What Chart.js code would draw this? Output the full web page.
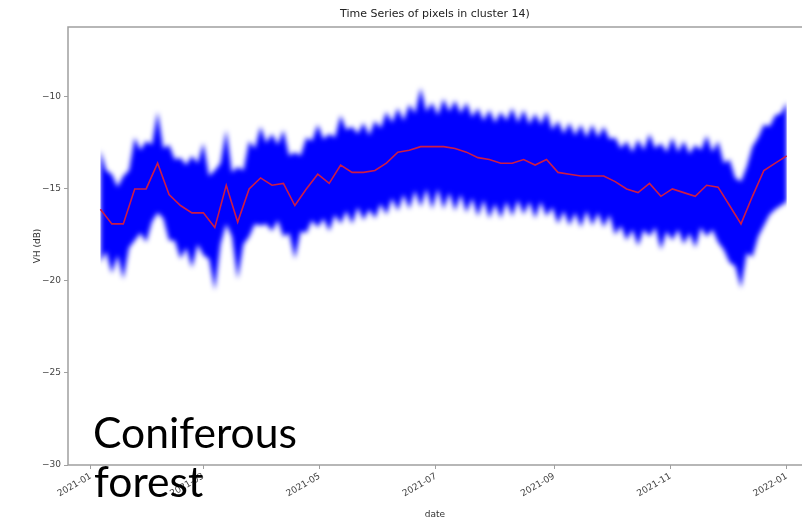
<!DOCTYPE html>
<html><head><meta charset="utf-8">
<script src="https://cdn.jsdelivr.net/npm/chart.js@4.4.1/dist/chart.umd.min.js"></script>
<style>html,body{margin:0;padding:0;background:#fff}canvas{display:block}</style>
</head><body>
<canvas id="c" width="802" height="524"></canvas>
<script>
// ---- data ----
const dates = [
 '2021-01-06','2021-01-12','2021-01-18','2021-01-24','2021-01-30',
 '2021-02-05','2021-02-11','2021-02-17','2021-02-23',
 '2021-03-01','2021-03-07','2021-03-13','2021-03-19','2021-03-25','2021-03-31',
 '2021-04-06','2021-04-12','2021-04-18','2021-04-24','2021-04-30',
 '2021-05-06','2021-05-12','2021-05-18','2021-05-24','2021-05-30',
 '2021-06-05','2021-06-11','2021-06-17','2021-06-23','2021-06-29',
 '2021-07-05','2021-07-11','2021-07-17','2021-07-23','2021-07-29',
 '2021-08-04','2021-08-10','2021-08-16','2021-08-22','2021-08-28',
 '2021-09-03','2021-09-09','2021-09-15','2021-09-21','2021-09-27',
 '2021-10-03','2021-10-09','2021-10-15','2021-10-21','2021-10-27',
 '2021-11-02','2021-11-08','2021-11-14','2021-11-20','2021-11-26',
 '2021-12-02','2021-12-08','2021-12-14','2021-12-20','2021-12-26',
 '2022-01-01'];
const meanVH = [
 -16.1,-16.9,-16.9,-15.0,-15.0,-13.6,-15.3,-15.9,-16.3,-16.3,
 -17.1,-14.8,-16.8,-15.0,-14.4,-14.8,-14.7,-15.9,-15.0,-14.2,
 -14.7,-13.7,-14.1,-14.1,-14.0,-13.6,-13.0,-12.9,-12.7,-12.7,
 -12.7,-12.8,-13.0,-13.3,-13.4,-13.6,-13.6,-13.4,-13.7,-13.4,
 -14.1,-14.2,-14.3,-14.3,-14.3,-14.6,-15.0,-15.2,-14.7,-15.4,
 -15.0,-15.2,-15.4,-14.8,-14.9,-15.9,-16.9,-15.4,-14.0,-13.6,-13.2];
// outer extent of the pixel lines at each date (spike tips)
const upperTip = [
 -12.9,-14.2,-14.3,-12.2,-12.4,-10.8,-12.6,-13.3,-13.2,-12.5,-14.0,-11.8,-13.8,-12.4,-11.6,
 -12.0,-11.8,-13.0,-12.2,-11.5,-12.0,-11.0,-11.6,-11.4,-11.3,-10.8,-10.6,-10.4,-9.5,-10.3,
 -10.1,-10.2,-10.3,-10.6,-10.7,-10.8,-10.6,-10.7,-10.9,-10.8,-11.3,-11.4,-11.5,-11.5,-11.6,
 -12.2,-12.4,-12.3,-12.0,-12.5,-12.2,-12.4,-12.6,-12.1,-12.4,-13.4,-14.6,-12.7,-11.5,-11.0,-10.3];
// extent between consecutive dates (notches between spikes)
const upperValley = [
 -14.0,-14.9,-14.0,-12.9,-12.6,-12.8,-13.4,-13.7,-13.6,-14.3,-13.6,-14.1,-14.0,-12.8,-12.5,
 -12.6,-13.2,-13.2,-12.4,-12.3,-12.2,-11.8,-12.0,-12.1,-11.7,-11.4,-11.3,-10.9,-10.8,-11.0,
 -10.8,-10.9,-11.1,-11.3,-11.4,-11.3,-11.4,-11.5,-11.5,-11.8,-12.0,-12.1,-12.2,-12.2,-12.3,
 -12.8,-13.0,-12.9,-12.8,-13.0,-13.0,-13.1,-12.9,-13.0,-13.6,-14.4,-13.8,-12.2,-11.6,-10.9];
const lowerTip = [
 -19.0,-19.6,-19.9,-17.8,-17.9,-16.3,-17.8,-18.8,-19.3,-18.6,-20.5,-16.9,-19.9,-17.6,-17.0,
 -17.3,-17.6,-18.8,-17.4,-17.1,-17.3,-16.9,-16.9,-16.7,-16.6,-16.4,-16.2,-16.1,-16.0,-16.1,
 -16.1,-16.2,-16.3,-16.5,-16.6,-16.6,-16.5,-16.4,-16.6,-16.5,-16.9,-17.0,-17.1,-17.0,-17.1,
 -17.5,-17.8,-18.1,-17.6,-18.3,-17.8,-18.0,-18.2,-17.6,-17.9,-19.0,-20.4,-18.7,-17.0,-16.1,-15.7];
const lowerValley = [
 -18.4,-18.6,-18.2,-17.4,-16.8,-16.6,-17.8,-18.2,-18.0,-18.8,-18.0,-17.6,-18.0,-16.9,-16.9,
 -16.7,-17.4,-17.3,-16.7,-16.6,-16.4,-16.2,-16.0,-16.1,-15.8,-15.5,-15.3,-15.1,-15.0,-15.0,
 -15.2,-15.3,-15.5,-15.6,-15.8,-15.7,-15.6,-15.7,-15.7,-16.0,-16.2,-16.3,-16.2,-16.3,-16.4,
 -17.0,-17.2,-17.2,-17.1,-17.3,-17.2,-17.4,-17.1,-17.2,-18.3,-19.2,-18.5,-17.6,-16.4,-15.9];
const xTickDates  = ['2021-01-01','2021-03-01','2021-05-01','2021-07-01','2021-09-01','2021-11-01','2022-01-01'];
const xTickLabels = ['2021-01','2021-03','2021-05','2021-07','2021-09','2021-11','2022-01'];
const xRange = ['2020-12-20','2022-01-09'];
const yTicks = [-30,-25,-20,-15,-10];
const yTickLabels = ['\u221230','\u221225','\u221220','\u221215','\u221210'];
const yRange = [-30, -6.2];
const titleText = 'Time Series of pixels in cluster 14)';
const xTitle = 'date';
const yTitle = 'VH (dB)';
const noteLines = ['Coniferous','forest'];

// ---- build ----
const DAY0 = Date.UTC(2021,0,1);
const toDay = s => (Date.parse(s + 'T00:00:00Z') - DAY0) / 864e5;
const dayX = dates.map(toDay);
const meanPts = dayX.map((d,i)=>({x:d, y:meanVH[i]}));
function envelope(tips, valleys){
  const pts=[];
  for(let i=0;i<dayX.length;i++){
    pts.push({x:dayX[i], y:tips[i]});
    if(i<dayX.length-1) pts.push({x:(dayX[i]+dayX[i+1])/2, y:valleys[i]});
  }
  return pts;
}
const upPts = envelope(upperTip, upperValley);
const loPts = envelope(lowerTip, lowerValley);
const xTickVals = xTickDates.map(toDay);

const FONT = "'DejaVu Sans', sans-serif";
const GREY = '#a0a0a0';

const deco = {
  id:'deco',
  beforeDatasetsDraw(chart){ chart.ctx.save(); chart.ctx.filter='blur(2.6px)'; },
  afterDatasetDraw(chart,args){ if(args.index===1){ chart.ctx.restore(); } },
  afterDatasetsDraw(chart){
    const {ctx, chartArea:a} = chart;
    ctx.save();
    ctx.strokeStyle = GREY; ctx.lineWidth = 1.5;
    ctx.beginPath();
    ctx.moveTo(a.right + 2, a.top); ctx.lineTo(a.left, a.top);
    ctx.lineTo(a.left, a.bottom); ctx.lineTo(a.right + 2, a.bottom);
    ctx.stroke();
    ctx.restore();
  },
  afterDraw(chart){
    const {ctx, chartArea:a} = chart;
    ctx.save();
    ctx.fillStyle = '#222';
    ctx.font = '11px ' + FONT;
    ctx.textAlign = 'center'; ctx.textBaseline = 'middle';
    ctx.fillText(titleText, (a.left + a.right)/2, 14);
    // overlay note
    ctx.fillStyle = '#000';
    ctx.textAlign = 'left'; ctx.textBaseline = 'alphabetic';
    ctx.font = '44px Lato';
    const w = ctx.measureText(noteLines[0]).width;
    const size = 44 * 204 / w;
    ctx.font = size.toFixed(1) + 'px Lato';
    ctx.fillText(noteLines[0], 93, 448);
    ctx.fillText(noteLines[1], 94, 497);
    ctx.restore();
  }
};

new Chart(document.getElementById('c'), {
  type:'line',
  data:{ datasets:[
    {label:'mean', data:meanPts, borderColor:'rgb(205,28,70)', borderWidth:1.6, pointRadius:0, fill:false, order:0, tension:0},
    {label:'upper', data:upPts, borderWidth:0, borderColor:'rgba(0,0,255,0)', backgroundColor:'rgb(0,0,255)', pointRadius:0, fill:'+1', order:1, tension:0},
    {label:'lower', data:loPts, borderWidth:0, borderColor:'rgba(0,0,255,0)', pointRadius:0, fill:false, order:2, tension:0}
  ]},
  options:{
    responsive:false, animation:false, devicePixelRatio:1,
    layout:{padding:{top:27,left:0,right:0,bottom:0}},
    plugins:{legend:{display:false}, tooltip:{enabled:false}, title:{display:false}},
    scales:{
      x:{ type:'linear', min:toDay(xRange[0]), max:toDay(xRange[1]),
        afterBuildTicks:s=>{ s.ticks = xTickVals.map(v=>({value:v})); },
        afterFit:s=>{ s.height = 59; },
        border:{display:false},
        grid:{drawOnChartArea:false, drawTicks:true, tickLength:4, color:GREY, lineWidth:1},
        ticks:{ autoSkip:false, minRotation:30, maxRotation:30, padding:2, color:'#444',
          font:{family:FONT, size:9}, callback:(v,i)=>xTickLabels[i] },
        title:{display:true, text:xTitle, color:'#333', font:{family:FONT, size:9}, padding:{top:0,bottom:3.5}}
      },
      y:{ type:'linear', min:yRange[0], max:yRange[1],
        afterBuildTicks:s=>{ s.ticks = yTicks.map(v=>({value:v})); },
        afterFit:s=>{ s.width = 68; },
        border:{display:false},
        grid:{drawOnChartArea:false, drawTicks:true, tickLength:4, color:GREY, lineWidth:1},
        ticks:{ padding:3, color:'#444', font:{family:FONT, size:9}, callback:(v,i)=>yTickLabels[i] },
        title:{display:true, text:yTitle, color:'#333', font:{family:FONT, size:9}, padding:{top:32,bottom:0}}
      }
    }
  },
  plugins:[deco]
});
</script>
</body></html>
